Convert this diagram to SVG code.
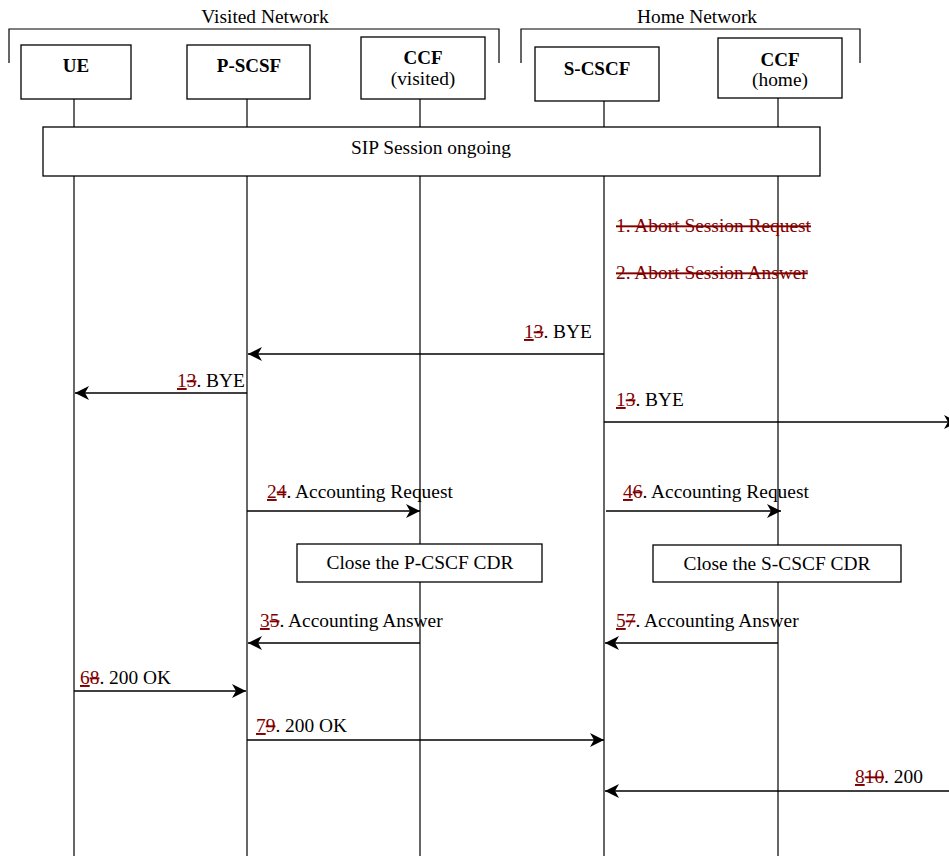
<svg xmlns="http://www.w3.org/2000/svg" width="949" height="856" viewBox="0 0 949 856">
<defs>
<style>
text{font-family:"Liberation Serif","Times New Roman",serif;font-size:19.4px;fill:#000}
.b{font-weight:bold;font-size:19px}
.box{fill:#fff;stroke:#000;stroke-width:1.3}
.life{stroke:#000;stroke-width:1.2;fill:none}
.msg{stroke:#000;stroke-width:1.4;fill:none;marker-end:url(#ah)}
.brk{stroke:#000;stroke-width:1.2;fill:none}
.ins{fill:#800000;text-decoration:underline}
.del{fill:#800000;text-decoration:line-through}
</style>
<marker id="ah" markerUnits="userSpaceOnUse" markerWidth="16" markerHeight="14" refX="14" refY="7" orient="auto">
<path d="M0,0 L14,7 L0,14 L4,7 z" fill="#000"/>
</marker>
</defs>
<rect width="949" height="856" fill="#fff"/>
<g id="brackets">
<path class="brk" d="M9,63 V29 H499 V63"/>
<text x="265" y="23" text-anchor="middle">Visited Network</text>
<path class="brk" d="M521,63 V29 H860 V63"/>
<text x="697" y="23" text-anchor="middle">Home Network</text>
</g>
<g id="lifelines">
<line class="life" x1="74" y1="99" x2="74" y2="856"/>
<line class="life" x1="247" y1="99" x2="247" y2="856"/>
<line class="life" x1="420" y1="99" x2="420" y2="856"/>
<line class="life" x1="604" y1="101" x2="604" y2="856"/>
<line class="life" x1="778" y1="98" x2="778" y2="856"/>
</g>
<g id="UE"><rect class="box" x="21" y="45" width="110" height="54"/><text class="b" x="76" y="72" text-anchor="middle">UE</text></g>
<g id="PSCSF"><rect class="box" x="187" y="45" width="123" height="54"/><text class="b" x="249" y="72" text-anchor="middle">P-SCSF</text></g>
<g id="CCFvisited"><rect class="box" x="361" y="37" width="124" height="62"/><text class="b" x="423" y="64" text-anchor="middle">CCF</text><text x="423" y="85" text-anchor="middle">(visited)</text></g>
<g id="SCSCF"><rect class="box" x="535" y="47" width="124" height="54"/><text class="b" x="597" y="75" text-anchor="middle">S-CSCF</text></g>
<g id="CCFhome"><rect class="box" x="718" y="38" width="124" height="60"/><text class="b" x="780" y="66" text-anchor="middle">CCF</text><text x="780" y="86" text-anchor="middle">(home)</text></g>
<g id="SIPSession"><rect class="box" x="43" y="127" width="777" height="49"/><text x="431" y="154" text-anchor="middle">SIP Session ongoing</text></g>
<g id="CloseP"><rect class="box" x="297" y="544" width="245" height="38"/><text x="420" y="569" text-anchor="middle">Close the P-CSCF CDR</text></g>
<g id="CloseS"><rect class="box" x="653" y="545" width="248" height="37"/><text x="777" y="570" text-anchor="middle">Close the S-CSCF CDR</text></g>
<g id="deleted">
<text x="616" y="232" class="del">1. Abort Session Request</text>
<text x="616" y="279" class="del">2. Abort Session Answer</text>
</g>
<g id="connectors">
<line class="msg" x1="604" y1="354" x2="248" y2="354"/>
<line class="msg" x1="247" y1="393" x2="75" y2="393"/>
<line class="msg" x1="604" y1="422" x2="958" y2="422"/>
<line class="msg" x1="247" y1="511" x2="420" y2="511"/>
<line class="msg" x1="606" y1="511" x2="781" y2="511"/>
<line class="msg" x1="420" y1="643" x2="248" y2="643"/>
<line class="msg" x1="778" y1="643" x2="605" y2="643"/>
<line class="msg" x1="74" y1="691" x2="246" y2="691"/>
<line class="msg" x1="247" y1="740" x2="604" y2="740"/>
<line class="msg" x1="949" y1="791" x2="605" y2="791"/>
</g>
<g id="labels">
<text x="524" y="338"><tspan class="ins">1</tspan><tspan class="del">3</tspan>. BYE</text>
<text x="177" y="387"><tspan class="ins">1</tspan><tspan class="del">3</tspan>. BYE</text>
<text x="616" y="406"><tspan class="ins">1</tspan><tspan class="del">3</tspan>. BYE</text>
<text x="267" y="498"><tspan class="ins">2</tspan><tspan class="del">4</tspan>. Accounting Request</text>
<text x="623" y="498"><tspan class="ins">4</tspan><tspan class="del">6</tspan>. Accounting Request</text>
<text x="260" y="627"><tspan class="ins">3</tspan><tspan class="del">5</tspan>. Accounting Answer</text>
<text x="616" y="627"><tspan class="ins">5</tspan><tspan class="del">7</tspan>. Accounting Answer</text>
<text x="80" y="684"><tspan class="ins">6</tspan><tspan class="del">8</tspan>. 200 OK</text>
<text x="256" y="732"><tspan class="ins">7</tspan><tspan class="del">9</tspan>. 200 OK</text>
<text x="855" y="783"><tspan class="ins">8</tspan><tspan class="del">10</tspan>. 200</text>
</g>
</svg>
